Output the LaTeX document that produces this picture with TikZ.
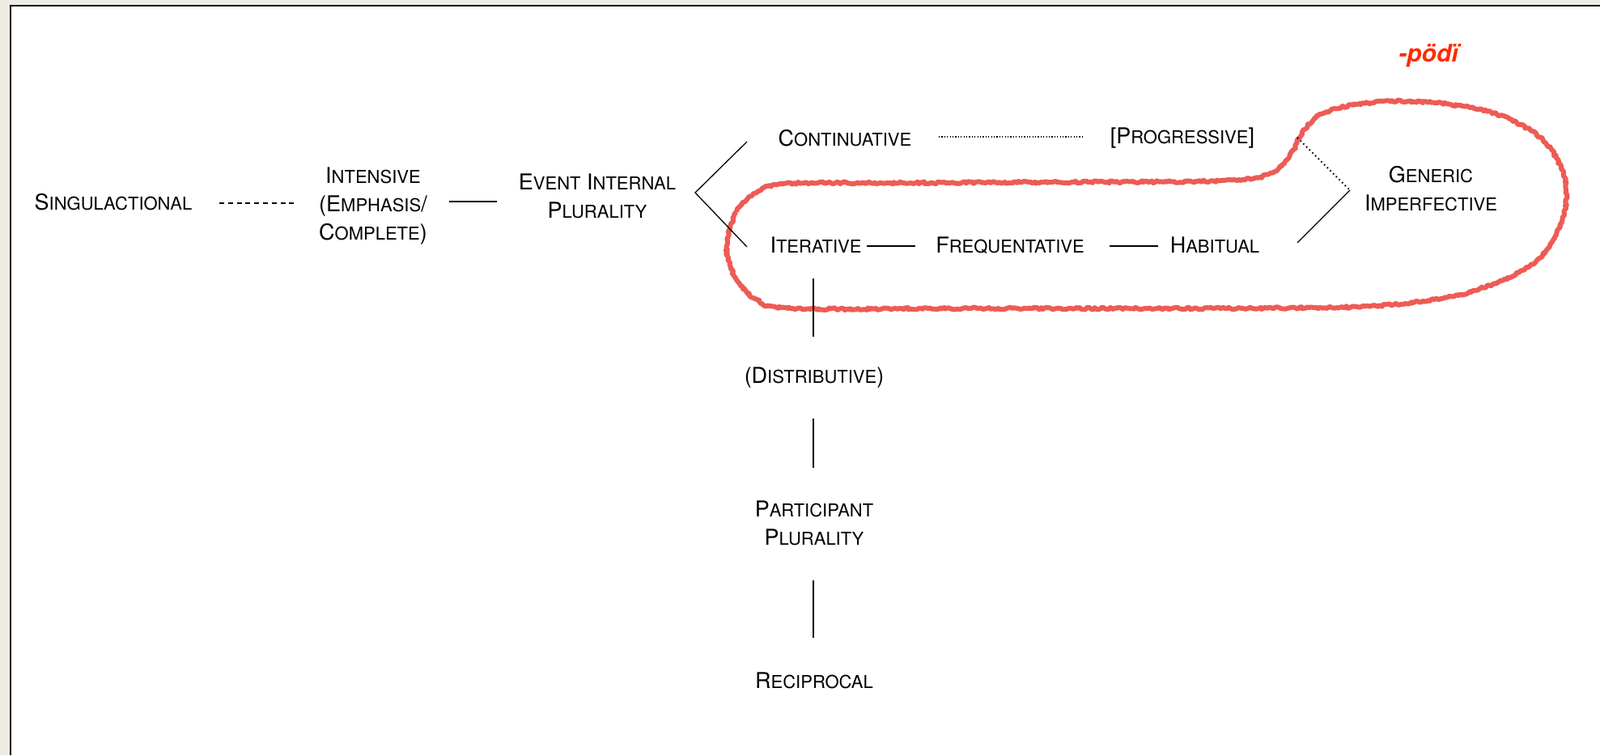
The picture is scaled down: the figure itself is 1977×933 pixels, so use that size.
\documentclass[tikz,border=0pt]{standalone}
\usepackage{fontspec}
\setmainfont{TeX Gyre Heros}
\usetikzlibrary{calc,decorations.pathmorphing}
\definecolor{bgbeige}{HTML}{EEEBE3}
\definecolor{loopred}{HTML}{EE5B55}
\definecolor{podired}{HTML}{FF2A00}
\newcommand\Sc[2]{{\fontsize{13.5}{17.5}\selectfont #1}{\fontsize{11}{17.5}\selectfont #2}}
\begin{document}
\begin{tikzpicture}[x=0.5pt,y=-0.5pt,
  lbl/.style={inner sep=0pt, align=center, font=\fontsize{13.5}{17.5}\selectfont},
  conn/.style={line width=0.65pt},
  dashconn/.style={line width=1.3pt, dash pattern=on 3pt off 2.4pt},
  dotconn/.style={line width=0.7pt, dash pattern=on 0.6pt off 1.1pt},
  dotconnb/.style={line width=1pt, dash pattern=on 0.8pt off 1.8pt},
  loopline/.style={loopred, line width=3pt, line join=round,
     decorate, decoration={random steps, segment length=1.2pt, amplitude=0.7pt}}]
\useasboundingbox (0,0) rectangle (1977,933);
\fill[bgbeige] (0,0) rectangle (1977,933);
\fill[white] (13,7) rectangle (1977,933);
\draw[line width=1.25pt] (13,933) -- (13,7) -- (1977,7);

% red loop
\draw[loopline] plot[smooth cycle, tension=0.6] coordinates {
 (898,304) (910,262) (935,238) (971,227) (1100,226) (1300,225) (1480,224)
 (1550,220) (1580,208) (1598,185) (1612,160) (1635,140) (1677,129) (1740,125)
 (1828,135) (1891,161) (1923,195) (1936,240) (1923,290) (1891,328) (1828,357)
 (1765,371) (1677,379) (1500,381) (1200,381) (980,381) (935,370) (908,342)};

% nodes
\node[lbl] (sing) at (140,250) {\Sc{S}{INGULACTIONAL}};
\node[lbl] (int) at (461,255) {\Sc{I}{NTENSIVE}\\\Sc{(E}{MPHASIS}\Sc{/}{}\\\Sc{C}{OMPLETE}\Sc{)}{}};
\node[lbl] (evt) at (738,242) {\Sc{E}{VENT} \Sc{I}{NTERNAL}\\\Sc{P}{LURALITY}};
\node[lbl] (cont) at (1044,171) {\Sc{C}{ONTINUATIVE}};
\node[lbl] (prog) at (1461,171) {\Sc{[P}{ROGRESSIVE}\Sc{]}{}};
\node[lbl] (gen) at (1768,233) {\Sc{G}{ENERIC}\\\Sc{I}{MPERFECTIVE}};
\node[lbl] (iter) at (1008,303) {\Sc{I}{TERATIVE}};
\node[lbl] (freq) at (1248,303) {\Sc{F}{REQUENTATIVE}};
\node[lbl] (hab) at (1501,303) {\Sc{H}{ABITUAL}};
\node[lbl] (dist) at (1006,467) {\Sc{(D}{ISTRIBUTIVE}\Sc{)}{}};
\node[lbl] (part) at (1006,646) {\Sc{P}{ARTICIPANT}\\\Sc{P}{LURALITY}};
\node[lbl] (recip) at (1006,841) {\Sc{R}{ECIPROCAL}};
\node[inner sep=0pt, text=podired, font=\fontsize{15}{18}\selectfont\bfseries\itshape] (podi) at (1765,69) {-pödï};

% connectors
\draw[dashconn] ($(sing)+(131,1)$) -- ($(int)+(-95,-4)$);
\draw[conn] ($(int)+(94,-6)$) -- ($(evt)+(-124,7)$);
\coordinate (fork) at ($(evt)+(121,-4)$);
\draw[conn] ($(cont)+(-121,4)$) -- (fork) -- ($(iter)+(-85,2)$);
\draw[dotconn] ($(cont)+(116,-2)$) -- ($(prog)+(-124,-2)$);
\draw[dotconnb] ($(prog)+(142,-1)$) -- ($(gen)+(-101,1)$);
\draw[conn] ($(hab)+(102,-3)$) -- ($(gen)+(-100,2)$);
\draw[conn] ($(iter)+(63,1)$) -- ($(freq)+(-117,1)$);
\draw[conn] ($(freq)+(123,1)$) -- ($(hab)+(-70,1)$);
\draw[conn] ($(iter)+(-3,41)$) -- ($(dist)+(-1,-51)$);
\draw[conn] ($(dist)+(-1,50)$) -- ($(part)+(-1,-68)$);
\draw[conn] ($(part)+(-1,71)$) -- ($(recip)+(-1,-53)$);
\end{tikzpicture}
\end{document}
